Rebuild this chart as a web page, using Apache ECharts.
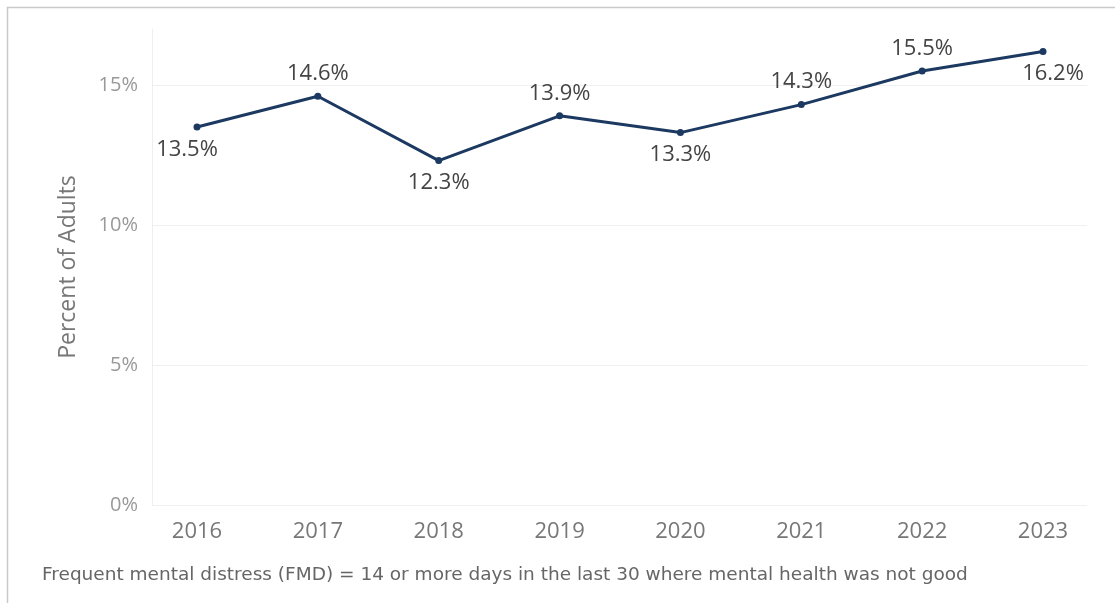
<!DOCTYPE html>
<html>
<head>
<meta charset="utf-8">
<script src="https://cdn.jsdelivr.net/npm/echarts@6/dist/echarts.min.js"></script>
<style>
  html, body { margin: 0; padding: 0; background: #fff; }
  #chart { width: 1115px; height: 603px; }
</style>
</head>
<body>
<div id="chart"></div>
<script>
// Share of adults reporting frequent mental distress, by survey year
const years = ['2016', '2017', '2018', '2019', '2020', '2021', '2022', '2023'];
const fmdPercent = [13.5, 14.6, 12.3, 13.9, 13.3, 14.3, 15.5, 16.2];
const yTicks = [0, 5, 10, 15];

// Which side of each point its value label sits on, and a small sideways nudge
const labelSide = ['bottom', 'top', 'bottom', 'top', 'bottom', 'top', 'top', 'bottom'];
const labelNudge = [-10, 0, 0, 0, 0, 0, 0, 10];

const FONT = '"Open Sans", sans-serif';
const LINE = '#1c3961';
const Y_MAX = 17;
const PX_PER_PCT = 28;           // vertical scale of the plot
const BOTTOM = 98;               // distance of the 0% line from the canvas bottom
const CANVAS_H = 603;
const topFor = v => CANVAS_H - BOTTOM - v * PX_PER_PCT;

const points = fmdPercent.map((v, i) => ({
  value: v,
  label: { position: labelSide[i], offset: [labelNudge[i], 0] }
}));

const chart = echarts.init(document.getElementById('chart'));
chart.setOption({
  animation: false,
  backgroundColor: '#fff',
  textStyle: { fontFamily: FONT },
  graphic: [{
    type: 'rect',
    shape: { x: 7.5, y: 7.5, width: 1200, height: 700 },
    style: { fill: 'none', stroke: '#c9c9c9', lineWidth: 1.5 },
    silent: true
  }, {
    type: 'text',
    left: 42,
    top: 566,
    style: {
      text: 'Frequent mental distress (FMD) = 14 or more days in the last 30 where mental health was not good',
      fill: '#666',
      font: '18.5px "DejaVu Sans", sans-serif'
    }
  }],
  // grid 0: full-height axis line and title; grid 1: percent ticks and gridlines;
  // grid 2: the years and the line itself
  grid: [
    { left: 152, right: 28, top: topFor(Y_MAX), bottom: BOTTOM },
    { left: 152, right: 28, top: topFor(yTicks[yTicks.length - 1]), bottom: BOTTOM },
    { left: 197, right: 72, top: topFor(Y_MAX), bottom: BOTTOM }
  ],
  xAxis: [
    { gridIndex: 0, type: 'category', data: years, show: false },
    { gridIndex: 1, type: 'category', data: years, show: false },
    {
      gridIndex: 2,
      type: 'category',
      data: years,
      boundaryGap: false,
      axisTick: { show: false },
      axisLine: { show: false },
      splitLine: { show: false },
      axisLabel: { color: '#777', fontSize: 22, margin: 16, fontFamily: FONT }
    }
  ],
  yAxis: [{
    gridIndex: 0,
    type: 'value',
    min: 0,
    max: Y_MAX,
    name: 'Percent of Adults',
    nameLocation: 'middle',
    nameGap: 72,
    nameTextStyle: { color: '#777', fontSize: 23, fontFamily: FONT },
    axisLine: { show: true, lineStyle: { color: '#eeeeee', width: 1 } },
    axisTick: { show: false },
    splitLine: { show: false },
    axisLabel: { show: false }
  }, {
    gridIndex: 1,
    type: 'value',
    min: yTicks[0],
    max: yTicks[yTicks.length - 1],
    interval: 5,
    axisLine: { show: false },
    axisTick: { show: false },
    splitLine: { lineStyle: { color: '#f0f0f0', width: 1 } },
    axisLabel: {
      color: '#999',
      fontSize: 20,
      margin: 14,
      fontFamily: FONT,
      formatter: v => v + '%'
    }
  }, {
    gridIndex: 2,
    type: 'value',
    min: 0,
    max: Y_MAX,
    show: false
  }],
  series: [{
    type: 'line',
    xAxisIndex: 2,
    yAxisIndex: 2,
    data: points,
    symbol: 'circle',
    symbolSize: 7,
    lineStyle: { color: LINE, width: 3 },
    itemStyle: { color: LINE },
    label: {
      show: true,
      distance: 8,
      color: '#444',
      fontSize: 22,
      fontFamily: FONT,
      formatter: p => p.value.toFixed(1) + '%'
    }
  }]
});
</script>
</body>
</html>
